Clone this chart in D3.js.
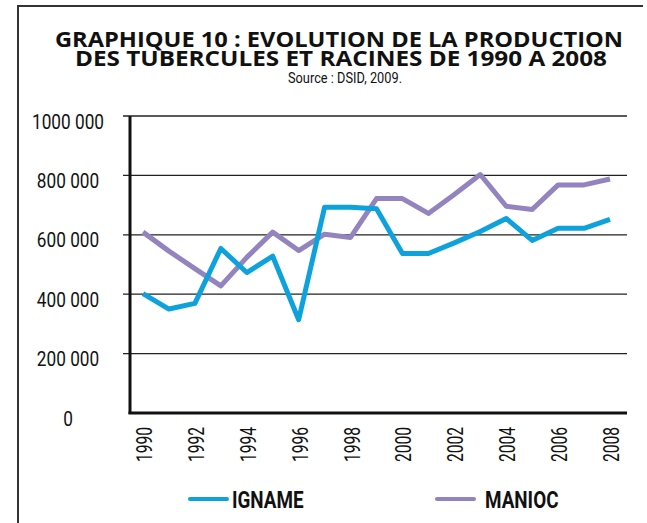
<!DOCTYPE html>
<html>
<head>
<meta charset="utf-8">
<script src="https://cdn.jsdelivr.net/npm/d3@7"></script>
<style>
  body { margin: 0; background: #fff; }
  svg text { fill: #111; }
</style>
</head>
<body>
<svg id="chart"></svg>
<script>
        // production (tonnes)
        const years = d3.range(1990, 2009)
        const igname = [402000, 350000, 369000, 554000, 473000, 528000, 314000, 693000, 693000, 688000,
                        537000, 537000, 573000, 611000, 655000, 581000, 622000, 622000, 652000]
        const manioc = [609000, 545000, 486000, 428000, 524000, 609000, 547000, 602000, 591000, 722000,
                        722000, 672000, 736000, 803000, 696000, 685000, 768000, 768000, 788000]
        const yTicks = [0, 200000, 400000, 600000, 800000, 1000000]
        const xTicks = d3.range(1990, 2009, 2)
        const seriesNames = ['IGNAME', 'MANIOC']

        const blue = '#0ea2dc'
        const purple = '#9384c0'
        const font = 'Roboto, "Open Sans", sans-serif'

        let w = 647
        let h = 523

        let svg = d3.select('#chart')
            .attr('width', w)
            .attr('height', h)

        // frame
        svg.append('path')
            .attr('d', 'M18,523 L18,6 L643,6')
            .attr('fill', 'none')
            .attr('stroke', '#333')
            .attr('stroke-width', 2)

        // titles
        svg.append('text')
            .attr('x', 339).attr('y', 47)
            .attr('text-anchor', 'middle')
            .attr('font-family', '"Open Sans", sans-serif')
            .attr('font-weight', 700)
            .attr('font-size', 21)
            .attr('textLength', 568)
            .attr('lengthAdjust', 'spacingAndGlyphs')
            .text('GRAPHIQUE 10 : EVOLUTION DE LA PRODUCTION')

        svg.append('text')
            .attr('x', 341).attr('y', 66)
            .attr('text-anchor', 'middle')
            .attr('font-family', '"Open Sans", sans-serif')
            .attr('font-weight', 700)
            .attr('font-size', 21)
            .attr('textLength', 532)
            .attr('lengthAdjust', 'spacingAndGlyphs')
            .text('DES TUBERCULES ET RACINES DE 1990 A 2008')

        svg.append('text')
            .attr('x', 345).attr('y', 83)
            .attr('text-anchor', 'middle')
            .attr('font-family', font)
            .attr('font-size', 15)
            .attr('textLength', 114)
            .attr('lengthAdjust', 'spacingAndGlyphs')
            .text('Source : DSID, 2009.')

        let x = d3.scaleLinear([1990, 2008], [143, 610])
        let y = d3.scaleLinear([0, 1000000], [413, 116])

        let fmt = v => d3.format(',')(v).replace(/,/g, ' ').replace(/^1 000/, '1000')

        // gridlines
        svg.append('g')
            .selectAll('line')
            .data(yTicks.filter(d => d > 0))
            .enter().append('line')
                .attr('x1', 123).attr('x2', 627)
                .attr('y1', d => y(d)).attr('y2', d => y(d))
                .attr('stroke', '#222')
                .attr('stroke-width', 1.3)

        // y labels (condensed by a horizontal squeeze)
        svg.append('g')
            .selectAll('text')
            .data(yTicks)
            .enter().append('text')
                .attr('transform', d => `translate(68, ${y(d) + 12.5}) scale(0.82, 1)`)
                .attr('text-anchor', 'middle')
                .attr('font-family', font)
                .attr('font-size', 21)
                .text(fmt)

        // axis lines
        svg.append('line')
            .attr('x1', 130).attr('x2', 130)
            .attr('y1', y(1000000)).attr('y2', y(0) + 1)
            .attr('stroke', '#111')
            .attr('stroke-width', 3)

        svg.append('line')
            .attr('x1', 128.5).attr('x2', 627)
            .attr('y1', y(0)).attr('y2', y(0))
            .attr('stroke', '#111')
            .attr('stroke-width', 3)

        // x labels, rotated
        svg.append('g')
            .selectAll('text')
            .data(xTicks)
            .enter().append('text')
                .attr('transform', d => `translate(${x(d) + 9}, 427) rotate(-90) scale(0.71, 1)`)
                .attr('text-anchor', 'end')
                .attr('font-family', font)
                .attr('font-size', 22)
                .text(d => d)

        // lines
        let line = d3.line()
            .x((d, i) => x(years[i]))
            .y(d => y(d))

        svg.append('path')
            .datum(manioc)
            .attr('d', line)
            .attr('fill', 'none')
            .attr('stroke', purple)
            .attr('stroke-width', 5)
            .attr('stroke-linejoin', 'round')

        svg.append('path')
            .datum(igname)
            .attr('d', line)
            .attr('fill', 'none')
            .attr('stroke', blue)
            .attr('stroke-width', 5)
            .attr('stroke-linejoin', 'round')

        // legend
        let legend = svg.append('g')
            .selectAll('g')
            .data(seriesNames)
            .enter().append('g')
                .attr('transform', (d, i) => `translate(${190 + i * 247}, 499)`)

        legend.append('line')
            .attr('x1', 0).attr('x2', 37)
            .attr('stroke', (d, i) => i == 0 ? blue : purple)
            .attr('stroke-width', 4)
            .attr('stroke-linecap', 'round')

        legend.append('text')
            .attr('transform', (d, i) => `translate(${i == 0 ? 42 : 48}, 8.5) scale(0.82, 1)`)
            .attr('font-family', font)
            .attr('font-weight', 700)
            .attr('font-size', 23)
            .text(d => d)
</script>
</body>
</html>
